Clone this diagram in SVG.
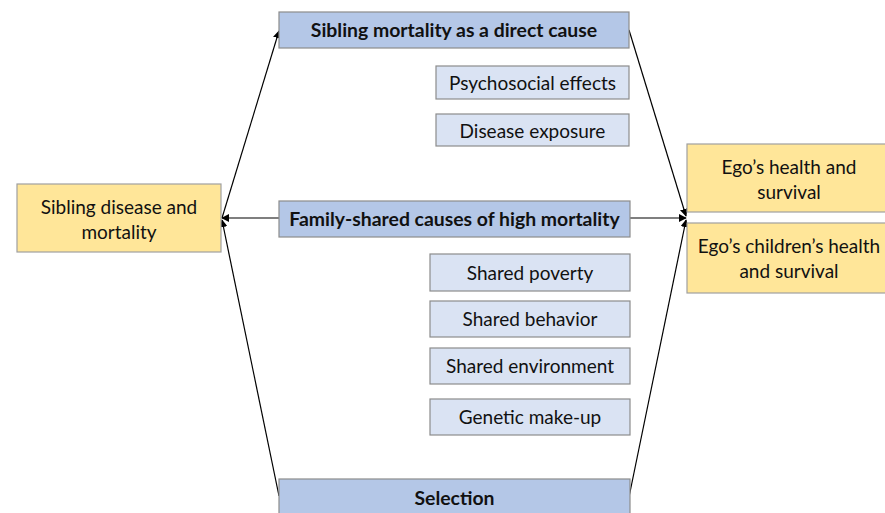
<svg xmlns="http://www.w3.org/2000/svg" width="885" height="513" viewBox="0 0 885 513">
<style>
.t{font-family:Lato,"Open Sans","Liberation Sans",sans-serif;font-size:19px;fill:#111;text-anchor:middle}
.b{font-weight:bold;font-size:19.4px}
.main{fill:#B4C7E7;stroke:#8C8C8C;stroke-width:1.2}
.sub{fill:#DAE3F3;stroke:#8C8C8C;stroke-width:1.2}
.yel{fill:#FFE699;stroke:#A0A0A0;stroke-width:1.2}
.c{stroke:#000;stroke-width:1.2;fill:none}
</style>
<defs>
<marker id="ah" viewBox="0 0 10 10" refX="9" refY="5" markerWidth="8" markerHeight="8" markerUnits="userSpaceOnUse" orient="auto">
<path d="M0,0 L10,5 L0,10 z" fill="#000"/>
</marker>
</defs>
<rect width="885" height="513" fill="#fff"/>
<g id="connectors">
<line class="c" x1="222" y1="218" x2="279" y2="31" marker-end="url(#ah)"/>
<line class="c" x1="279" y1="218" x2="222" y2="218" marker-end="url(#ah)"/>
<line class="c" x1="279" y1="496" x2="222" y2="220" marker-end="url(#ah)"/>
<line class="c" x1="629" y1="30" x2="686" y2="216" marker-end="url(#ah)"/>
<line class="c" x1="630" y1="218" x2="686" y2="218" marker-end="url(#ah)"/>
<line class="c" x1="629" y1="497" x2="686" y2="220" marker-end="url(#ah)"/>
</g>
<g id="sibling-disease">
<rect class="yel" x="17" y="184" width="204" height="68"/>
<text class="t" x="119" y="214">Sibling disease and</text>
<text class="t" x="119" y="239">mortality</text>
</g>
<g id="direct-cause">
<rect class="main" x="279" y="12" width="350" height="36"/>
<text class="t b" x="454" y="37">Sibling mortality as a direct cause</text>
</g>
<g id="psychosocial">
<rect class="sub" x="436" y="66" width="193" height="33"/>
<text class="t" x="532.5" y="90">Psychosocial effects</text>
</g>
<g id="disease-exposure">
<rect class="sub" x="436" y="114" width="193" height="32"/>
<text class="t" x="532.5" y="138">Disease exposure</text>
</g>
<g id="family-shared">
<rect class="main" x="279" y="201" width="351" height="36"/>
<text class="t b" x="454.5" y="226">Family-shared causes of high mortality</text>
</g>
<g id="shared-poverty">
<rect class="sub" x="430" y="254" width="200" height="37"/>
<text class="t" x="530" y="280">Shared poverty</text>
</g>
<g id="shared-behavior">
<rect class="sub" x="430" y="301" width="200" height="36"/>
<text class="t" x="530" y="326">Shared behavior</text>
</g>
<g id="shared-environment">
<rect class="sub" x="430" y="348" width="200" height="36"/>
<text class="t" x="530" y="373">Shared environment</text>
</g>
<g id="genetic">
<rect class="sub" x="430" y="399" width="200" height="36"/>
<text class="t" x="530" y="424">Genetic make-up</text>
</g>
<g id="selection">
<rect class="main" x="279" y="479" width="351" height="40"/>
<text class="t b" x="454.5" y="505">Selection</text>
</g>
<g id="ego-health">
<rect class="yel" x="687" y="144" width="205" height="68"/>
<text class="t" x="789" y="174">Ego’s health and</text>
<text class="t" x="789" y="199">survival</text>
</g>
<g id="ego-children">
<rect class="yel" x="687" y="223" width="205" height="70"/>
<text class="t" x="789" y="253">Ego’s children’s health</text>
<text class="t" x="789" y="278">and survival</text>
</g>
</svg>
